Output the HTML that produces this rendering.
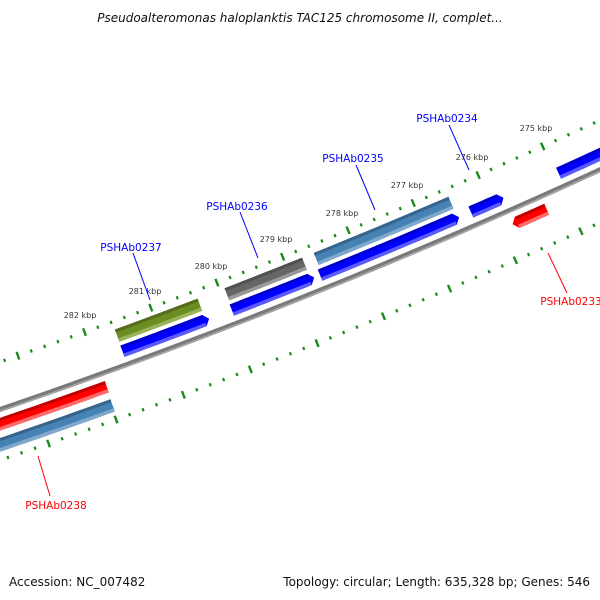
<!DOCTYPE html>
<html><head><meta charset="utf-8"><style>
html,body{margin:0;padding:0;background:#fff;}
svg{display:block;}
text{font-family:"DejaVu Sans","Liberation Sans",sans-serif;}
</style></head><body>
<svg id="s" width="600" height="600" viewBox="0 0 600 600" xmlns="http://www.w3.org/2000/svg">
<rect width="600" height="600" fill="#fff"/>
<g id="g"></g>
<text x="300" y="22" text-anchor="middle" font-size="12" font-style="italic" fill="#111">Pseudoalteromonas haloplanktis TAC125 chromosome II, complet...</text>
<text x="9" y="586" font-size="12" fill="#111">Accession: NC_007482</text>
<text x="590" y="586" text-anchor="end" font-size="12" fill="#111">Topology: circular; Length: 635,328 bp; Genes: 546</text>
<g font-size="8" fill="#333" text-anchor="middle">
<text x="80" y="318">282 kbp</text>
<text x="145" y="294">281 kbp</text>
<text x="211" y="269">280 kbp</text>
<text x="276" y="242">279 kbp</text>
<text x="342" y="216">278 kbp</text>
<text x="407" y="188">277 kbp</text>
<text x="472" y="160">276 kbp</text>
<text x="536" y="131">275 kbp</text>
</g>
<g font-size="10.5" text-anchor="middle">
<text x="131" y="251" fill="#0000ff">PSHAb0237</text>
<text x="237" y="210" fill="#0000ff">PSHAb0236</text>
<text x="353" y="162" fill="#0000ff">PSHAb0235</text>
<text x="447" y="122" fill="#0000ff">PSHAb0234</text>
<text x="571" y="305" fill="#ff0000">PSHAb0233</text>
<text x="56" y="509" fill="#ff0000">PSHAb0238</text>
</g>
<g stroke-width="1">
<line x1="133" y1="253" x2="150" y2="300" stroke="#0000ff"/>
<line x1="240" y1="212" x2="258" y2="258" stroke="#0000ff"/>
<line x1="356" y1="165" x2="375" y2="210" stroke="#0000ff"/>
<line x1="449" y1="125" x2="469" y2="170" stroke="#0000ff"/>
<line x1="548" y1="253" x2="567" y2="293" stroke="#ff0000"/>
<line x1="38" y1="456" x2="50" y2="496" stroke="#ff0000"/>
</g>
</svg>
<script>
(function(){
var C=[-2108.5,-5739],NS="http://www.w3.org/2000/svg",g=document.getElementById("g");
function P(d,r){var a=d*Math.PI/180;return [C[0]+r*Math.cos(a),C[1]+r*Math.sin(a)];}
function ang(p){return Math.atan2(p[1]-C[1],p[0]-C[0])*180/Math.PI;}
function el(n,at){var e=document.createElementNS(NS,n);for(var k in at)e.setAttribute(k,at[k]);g.appendChild(e);return e;}
function arcPts(a1,a2,r,n){var o=[];for(var i=0;i<=n;i++){o.push(P(a1+(a2-a1)*i/n,r));}return o;}
function poly(pts,fill){el("polygon",{points:pts.map(function(p){return p[0].toFixed(2)+","+p[1].toFixed(2);}).join(" "),fill:fill});}
function band(a1,a2,r1,r2,fill,tip){
 var pts=arcPts(a1,a2,r2,12);
 if(tip==="hi"){pts.push(P(a2+5/6500*180/Math.PI,(r1+r2)/2));}
 pts=pts.concat(arcPts(a2,a1,r1,12));
 if(tip==="lo"){pts.push(P(a1-5/6500*180/Math.PI,(r1+r2)/2));}
 poly(pts,fill);
}
function feat(p1,p2,r1,r2,cols,tip){
 var a=ang(p1),b=ang(p2),lo=Math.min(a,b),hi=Math.max(a,b);
 band(lo,hi,r1,r2,cols[1],tip);
 band(lo,hi,r1,r1+3,cols[0],null);
 band(lo,hi,r2-3.5,r2,cols[2],null);
}
var bb=arcPts(60,75,6500,60);
el("polyline",{points:bb.map(function(p){return p.join(",");}).join(" "),fill:"none",stroke:"#7a7a7a","stroke-width":5});
var bb2=arcPts(60,75,6501.5,60);
el("polyline",{points:bb2.map(function(p){return p.join(",");}).join(" "),fill:"none",stroke:"#a8a8a8","stroke-width":1.5});
function ticks(r){for(var i=-10;i<=50;i++){var k=274+i/5;var d=65.75+(k-275)*0.627;var maj=(i%5===0);
 var hl=maj?4:1.6;var p1=P(d,r-hl),p2=P(d,r+hl);
 el("line",{x1:p1[0],y1:p1[1],x2:p2[0],y2:p2[1],stroke:"#1a8a1a","stroke-width":maj?2.4:2.2});}}
ticks(6455);ticks(6548);
var GR=["#556b1e","#6b8e23","#9ab35a"],GY=["#505050","#666666","#999999"],SB=["#36648b","#4682b4","#7fa8cc"],BL=["#0000cc","#0000ff","#5a5aff"],RD=["#c00000","#ff0000","#ff6a6a"];
feat([115,330],[200,305],6463,6476,GR);
feat([226,292],[305,265],6463,6476,GY);
feat([315,256],[452,205],6463,6476,SB);
feat([122,350],[205,322],6480,6492,BL,"lo");
feat([233,313],[311,283],6480,6492,BL,"lo");
feat([322,280],[457,225],6480,6492,BL,"lo");
feat([470,210],[499,200],6480,6492,BL,"lo");
feat([558,172],[640,135],6480,6492,BL,"lo");
feat([-30,430],[108,390],6508,6520,RD);
feat([517,222],[547,210],6508,6520,RD,"hi");
feat([-30,452],[115,412],6527,6540,SB);
})();
</script>
</body></html>
